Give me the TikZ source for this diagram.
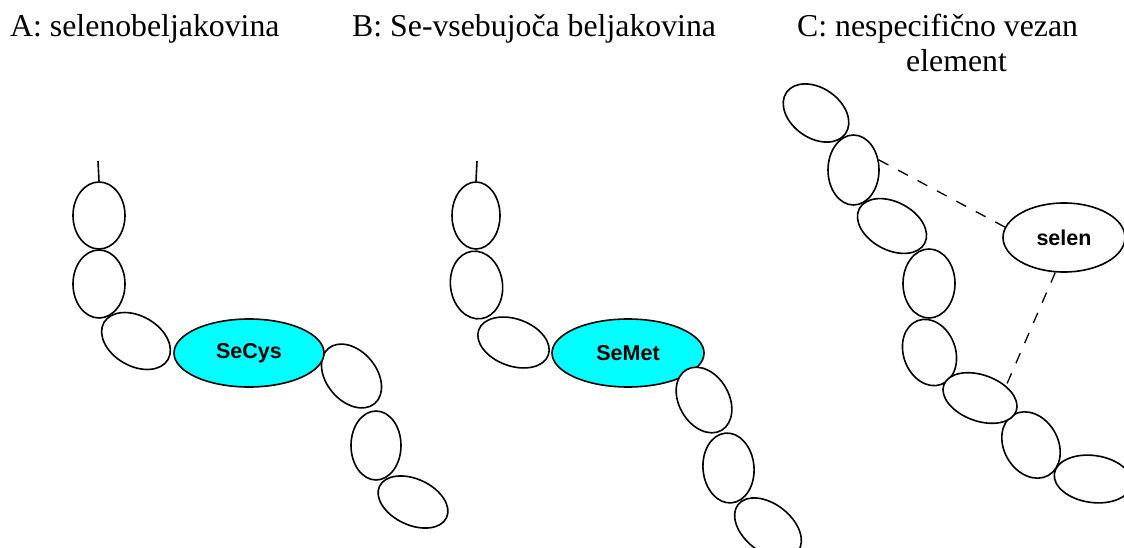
\documentclass[tikz,border=0pt]{standalone}
\usepackage{fontspec}
\setmainfont{Liberation Serif}
\setsansfont{Liberation Sans}
\usetikzlibrary{positioning,shapes.geometric}
\definecolor{selenocyan}{RGB}{0,255,255}

\begin{document}
\begin{tikzpicture}[x=1pt,y=1pt]
      \tikzset{
          title/.style={anchor=base west, inner sep=0pt, font=\fontsize{31.8}{35}\selectfont, align=left},
          link/.style={ellipse, draw=black, line width=1.6pt, inner sep=0pt, fill=white},
          selenolink/.style={link, fill=selenocyan, font=\sffamily\bfseries\fontsize{21.5}{24}\selectfont},
          myarrow/.style={draw, line width=1.6pt},
          bond/.style={draw, line width=1.3pt, dash pattern=on 11pt off 11pt},
      }
      \useasboundingbox (0,0) rectangle (1124,547);
      \clip (0,0) rectangle (1124,547);

      % titles
      \node[title] (titleA) at (10,510) {A: selenobeljakovina};
      \node[title] (titleB) at (352,510) {B: Se-vsebujoča beljakovina};
      \node[title] (titleC) at (797,475) {C: nespecifično vezan\\\hspace*{109pt}element};

      % A: selenobeljakovina
      \coordinate (AuxNodeA) at (98,386);
      \node[link, minimum width=52, minimum height=67] (itemA1) at (99,331.5) {};
      \node[link, minimum width=52, minimum height=68] (itemA2) at (99,263) {};
      \node[link, minimum width=74, minimum height=50, rotate=-30] (itemA3) at (136,206) {};
      \node[link, minimum width=72, minimum height=50, rotate=-50] (itemA5) at (351.5,171) {};
      \node[link, minimum width=50, minimum height=69] (itemA6) at (376,101.5) {};
      \node[link, minimum width=74, minimum height=46, rotate=-25] (itemA7) at (413,45) {};
      \node[selenolink, minimum width=150, minimum height=68] (SeCys) at (249,194) {SeCys};
      \path[myarrow] (AuxNodeA) -- (itemA1.north);

      % B: Se-vsebujoca beljakovina
      \coordinate (AuxNodeB) at (477,386);
      \node[link, minimum width=48, minimum height=67] (itemB1) at (476,331.5) {};
      \node[link, minimum width=52, minimum height=68, rotate=8] (itemB2) at (476.5,262) {};
      \node[link, minimum width=74, minimum height=47, rotate=-20] (itemB3) at (513.5,204.5) {};
      \node[selenolink, minimum width=152, minimum height=68] (SeMet) at (628,194) {SeMet};
      \node[link, minimum width=70, minimum height=50, rotate=-60] (itemB5) at (704,147) {};
      \node[link, minimum width=51, minimum height=70, rotate=5] (itemB6) at (728.5,79) {};
      \node[link, minimum width=76, minimum height=48, rotate=-38] (itemB7) at (768,19) {};
      \path[myarrow] (AuxNodeB) -- (itemB1.north);

      % C: nespecificno vezan element
      \node[link, minimum width=72, minimum height=50, rotate=-35] (itemC1) at (816,434) {};
      \node[link, minimum width=51, minimum height=70] (itemC2) at (853.5,377) {};
      \node[link, minimum width=74, minimum height=48, rotate=-28] (itemC3) at (892,321) {};
      \node[link, minimum width=52, minimum height=69] (itemC4) at (929,263.5) {};
      \node[link, minimum width=52, minimum height=68, rotate=20] (itemC5) at (929.5,194.5) {};
      \node[link, minimum width=54, minimum height=70, rotate=30] (itemC7) at (1031,102) {};
      \node[link, minimum width=77, minimum height=46, rotate=-20] (itemC6) at (980,149) {};
      \node[link, minimum width=78, minimum height=47, rotate=-8] (itemC8) at (1093,68) {};
      \node[link, font=\sffamily\bfseries\fontsize{21.5}{24}\selectfont, minimum width=122, minimum height=69] (selen) at (1064,309.5) {selen};
      \path[bond] (itemC2.22) -- (selen.170);
      \path[bond] (selen.256) -- (itemC6.45);

\end{tikzpicture}
\end{document}
